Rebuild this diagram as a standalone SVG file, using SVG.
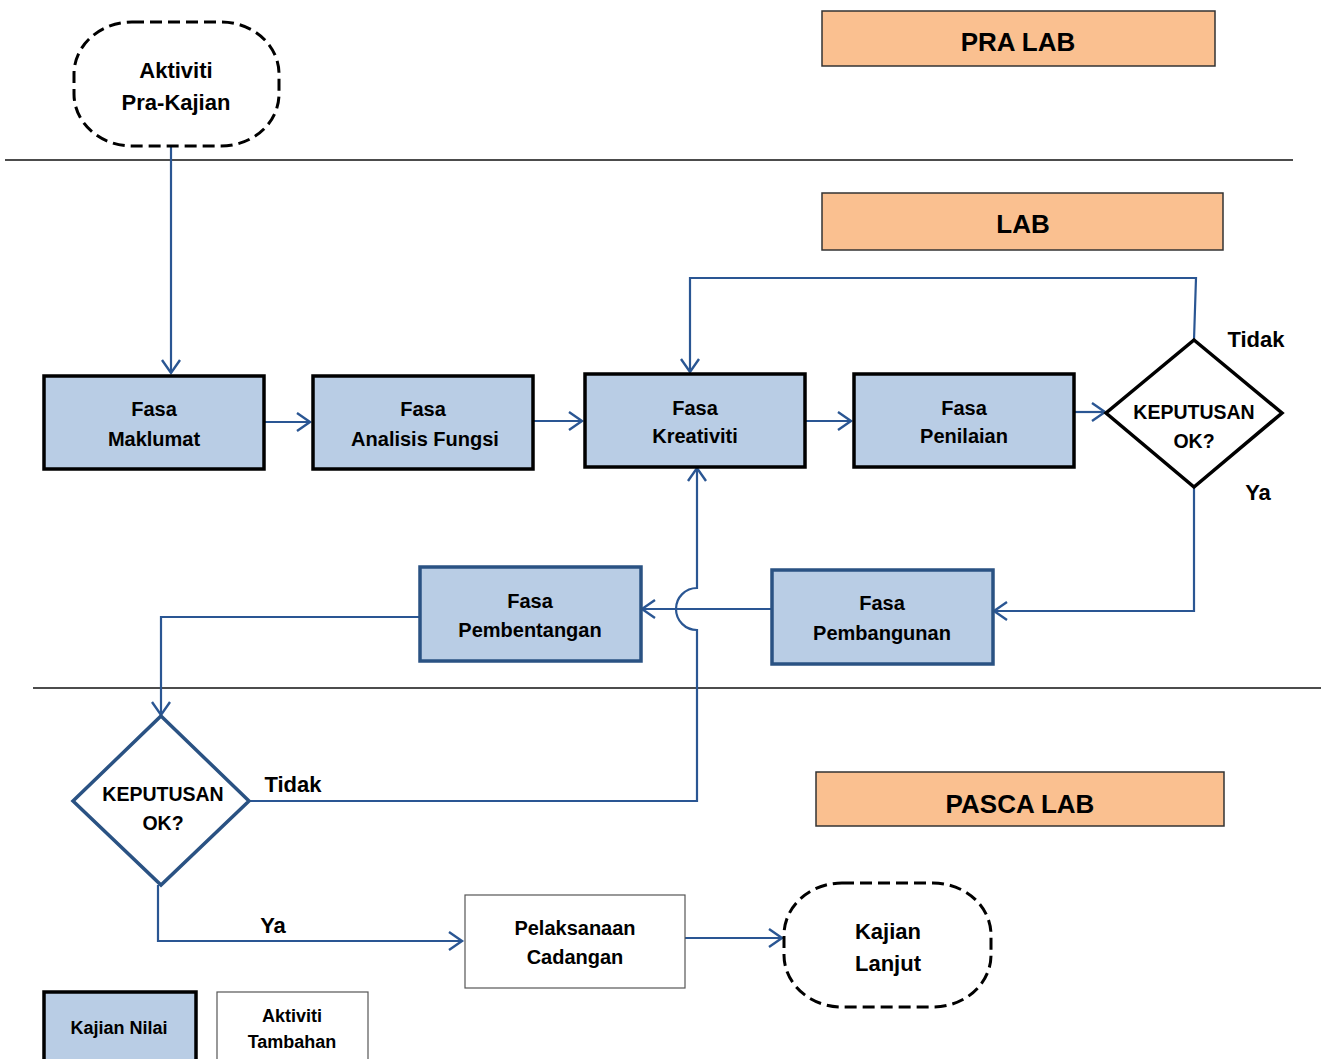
<svg xmlns="http://www.w3.org/2000/svg" width="1328" height="1059" viewBox="0 0 1328 1059">
<defs>
<marker id="arr" markerUnits="userSpaceOnUse" markerWidth="26" markerHeight="26" refX="14" refY="10" orient="auto" viewBox="0 0 26 20">
<path d="M1,1 L14,10 L1,19" fill="none" stroke="#2A5693" stroke-width="2.4"/>
</marker>
</defs>
<style>
text{font-family:"Liberation Sans",Arial,sans-serif;font-weight:bold;fill:#000;text-anchor:middle;dominant-baseline:central}
.t20{font-size:20px}
.t22{font-size:22px}
.t19{font-size:19.5px}
.t18{font-size:18px}
.t26{font-size:26px}
.phase{fill:#FAC090;stroke:#333;stroke-width:1.5}
.va{fill:#B9CDE5;stroke:#000;stroke-width:3.5}
.vb{fill:#B9CDE5;stroke:#2A5283;stroke-width:3.5}
.plain{fill:#fff;stroke:#555;stroke-width:1.2}
.dash{fill:#fff;stroke:#000;stroke-width:3;stroke-dasharray:12,6}
.sep{stroke:#111;stroke-width:1.5}
.c{fill:none;stroke:#2A5693;stroke-width:2.2}
</style>

<line class="sep" x1="5" y1="160" x2="1293" y2="160"/>
<line class="sep" x1="33" y1="688" x2="1321" y2="688"/>

<g id="pra-lab"><rect class="phase" x="822" y="11" width="393" height="55"/><text class="t26" x="1018" y="42">PRA LAB</text></g>
<g id="lab"><rect class="phase" x="822" y="193" width="401" height="57"/><text class="t26" x="1023" y="224">LAB</text></g>
<g id="pasca-lab"><rect class="phase" x="816" y="772" width="408" height="54"/><text class="t26" x="1020" y="804">PASCA LAB</text></g>

<g id="connectors">
<path class="c" d="M171,146 V373" marker-end="url(#arr)"/>
<path class="c" d="M264,422 H310" marker-end="url(#arr)"/>
<path class="c" d="M533,421 H582" marker-end="url(#arr)"/>
<path class="c" d="M805,421 H851" marker-end="url(#arr)"/>
<path class="c" d="M1074,412 H1105" marker-end="url(#arr)"/>
<path class="c" d="M1194,340 L1196,278 H690 V372" marker-end="url(#arr)"/>
<path class="c" d="M1194,487 V611 H994" marker-end="url(#arr)"/>
<path class="c" d="M772,609 H642" marker-end="url(#arr)"/>
<path class="c" d="M249,801 H697 V630 A21,21 0 0 1 697,588 V468" marker-end="url(#arr)"/>
<path class="c" d="M420,617 H161 V715" marker-end="url(#arr)"/>
<path class="c" d="M158,885 V941 H462" marker-end="url(#arr)"/>
<path class="c" d="M685,938 H782" marker-end="url(#arr)"/>
</g>

<g id="aktiviti-pra-kajian"><rect class="dash" x="74" y="22" width="205" height="124" rx="58" ry="52"/><text class="t22" x="176" y="70">Aktiviti</text><text class="t22" x="176" y="102">Pra-Kajian</text></g>
<g id="fasa-maklumat"><rect class="va" x="44" y="376" width="220" height="93"/><text class="t20" x="154" y="409">Fasa</text><text class="t20" x="154" y="439">Maklumat</text></g>
<g id="fasa-analisis-fungsi"><rect class="va" x="313" y="376" width="220" height="93"/><text class="t20" x="423" y="409">Fasa</text><text class="t20" x="425" y="439">Analisis Fungsi</text></g>
<g id="fasa-kreativiti"><rect class="va" x="585" y="374" width="220" height="93"/><text class="t20" x="695" y="408">Fasa</text><text class="t20" x="695" y="436">Kreativiti</text></g>
<g id="fasa-penilaian"><rect class="va" x="854" y="374" width="220" height="93"/><text class="t20" x="964" y="408">Fasa</text><text class="t20" x="964" y="436">Penilaian</text></g>
<g id="keputusan-1"><polygon points="1194,340 1282,413 1194,487 1106,413" fill="#fff" stroke="#000" stroke-width="3.5"/><text class="t19" x="1194" y="412">KEPUTUSAN</text><text class="t19" x="1194" y="441">OK?</text></g>
<text class="t22" x="1256" y="339">Tidak</text>
<text class="t22" x="1258" y="492">Ya</text>
<g id="fasa-pembangunan"><rect class="vb" x="772" y="570" width="221" height="94"/><text class="t20" x="882" y="603">Fasa</text><text class="t20" x="882" y="633">Pembangunan</text></g>
<g id="fasa-pembentangan"><rect class="vb" x="420" y="567" width="221" height="94"/><text class="t20" x="530" y="601">Fasa</text><text class="t20" x="530" y="630">Pembentangan</text></g>
<g id="keputusan-2"><polygon points="161,716 249,801 161,885 73,801" fill="#fff" stroke="#2A5283" stroke-width="3.5"/><text class="t19" x="163" y="794">KEPUTUSAN</text><text class="t19" x="163" y="823">OK?</text></g>
<text class="t22" x="293" y="784">Tidak</text>
<text class="t22" x="273" y="925">Ya</text>
<g id="pelaksanaan-cadangan"><rect class="plain" x="465" y="895" width="220" height="93"/><text class="t20" x="575" y="928">Pelaksanaan</text><text class="t20" x="575" y="957">Cadangan</text></g>
<g id="kajian-lanjut"><rect class="dash" x="784" y="883" width="207" height="124" rx="58" ry="52"/><text class="t22" x="888" y="931">Kajian</text><text class="t22" x="888" y="963">Lanjut</text></g>
<g id="legend-kajian-nilai"><rect class="va" x="44" y="992" width="152" height="80"/><text class="t18" x="119" y="1028">Kajian Nilai</text></g>
<g id="legend-aktiviti-tambahan"><rect class="plain" x="217" y="992" width="151" height="80"/><text class="t18" x="292" y="1016">Aktiviti</text><text class="t18" x="292" y="1042">Tambahan</text></g>
</svg>
